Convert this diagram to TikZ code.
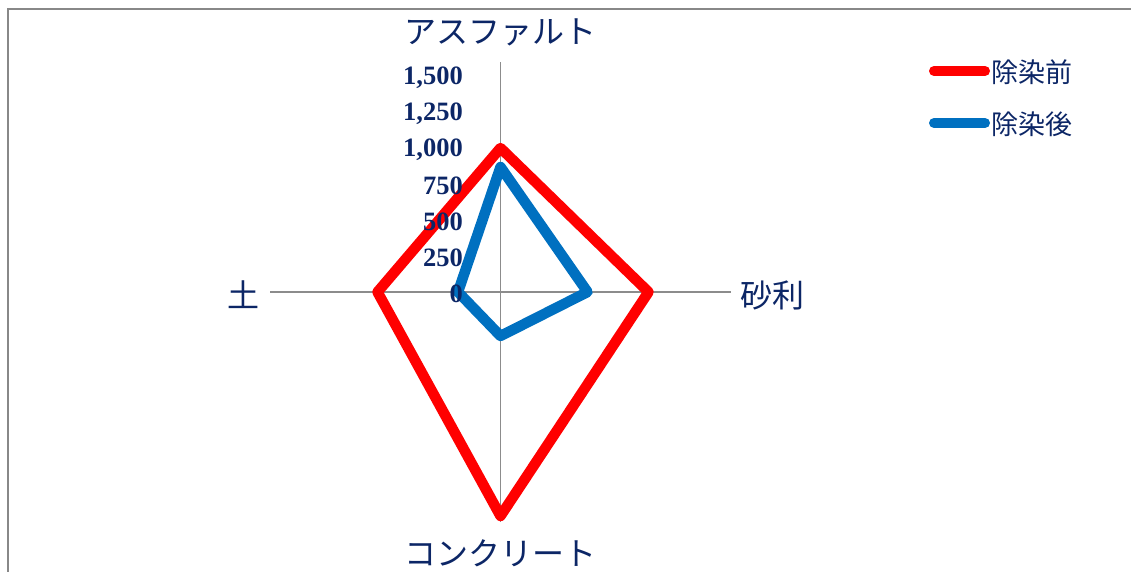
\documentclass[tikz,border=0pt]{standalone}
\usepackage{fontspec}
\setmainfont{Liberation Serif}
\newfontfamily\jpfont{Noto Sans CJK JP}
\definecolor{navy}{RGB}{12,38,102}
\definecolor{axisgray}{RGB}{140,140,140}
\definecolor{framegray}{RGB}{136,136,136}
\definecolor{redline}{RGB}{255,0,0}
\definecolor{blueline}{RGB}{0,112,192}
\tikzset{
  axisline/.style={draw=axisgray, line width=1.6pt},
  series/.style={line width=10.5pt, line join=round, line cap=round},
  catlabel/.style={font=\jpfont\fontsize{32}{32}\selectfont, text=navy, inner sep=0pt},
  leglabel/.style={font=\jpfont\fontsize{27}{27}\selectfont, text=navy, inner sep=0pt, anchor=west},
  ticklabel/.style={font=\bfseries\fontsize{26.5}{26.5}\selectfont, text=navy, inner sep=0pt, anchor=east},
}
\begin{document}
\begin{tikzpicture}[x=1pt,y=-1pt]
\useasboundingbox (0,0) rectangle (1131,572);
% frame
\draw[framegray, line width=2pt] (8,572) -- (8,9) -- (1131,9);
% center and axes
\coordinate (c) at (500.5,292);
\coordinate (at) at (500.5,62);
\coordinate (ar) at (731,292);
\coordinate (ab) at (500.5,522);
\coordinate (al) at (270,292);
\draw[axisline] (c) -- (at);
\draw[axisline] (c) -- (ar);
\draw[axisline] (c) -- (ab);
\draw[axisline] (c) -- (al);
% series
\coordinate (rt) at (500.5,148);
\coordinate (rr) at (648.5,292);
\coordinate (rb) at (500.5,516);
\coordinate (rl) at (377.5,292);
\coordinate (bt) at (500.5,167);
\coordinate (br) at (587.5,292);
\coordinate (bb) at (500.5,336);
\coordinate (bl) at (458,292);
\draw[series, redline] (rt) -- (rr) -- (rb) -- (rl) -- cycle;
\draw[series, blueline] (bt) -- (br) -- (bb) -- (bl) -- cycle;
% tick labels (drawn over the series)
\foreach \v/\t in {0/0,250/250,500/500,750/750,1000/{1,000},1250/{1,250},1500/{1,500}}
  \node[ticklabel] (t\v) at (463,{292-0.144*\v+1.5}) {\t};
% category labels
\node[catlabel] (lt) at (500.5,32) {アスファルト};
\node[catlabel] (lb) at (500.5,553) {コンクリート};
\node[catlabel] (lr) at (772.5,295) {砂利};
\node[catlabel] (ll) at (243.5,295) {土};
% legend
\coordinate (lg1a) at (934,71);
\coordinate (lg1b) at (985,71);
\coordinate (lg2a) at (934,123);
\coordinate (lg2b) at (985,123);
\draw[redline, line width=10pt, line cap=round] (lg1a) -- (lg1b);
\draw[blueline, line width=10pt, line cap=round] (lg2a) -- (lg2b);
\node[leglabel] (lg1) at (991,72) {除染前};
\node[leglabel] (lg2) at (991,124) {除染後};
\end{tikzpicture}
\end{document}
